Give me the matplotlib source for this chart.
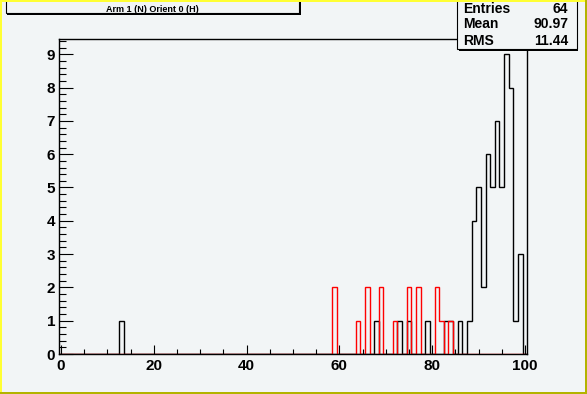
import numpy as np
import matplotlib
matplotlib.use("Agg")
import matplotlib.pyplot as plt
from matplotlib.patches import Rectangle
from matplotlib.ticker import MultipleLocator

# ---- data (bin centre -> count), bins of width 1 from -0.5 to 100.5 ----
black_bins = [13, 68, 73, 75, 79, 83, 84, 86, 88, 89, 90, 91, 92, 93, 94, 95, 96, 97, 98, 99]
black_counts = [1, 1, 1, 1, 1, 1, 1, 1, 1, 4, 5, 2, 6, 5, 7, 5, 9, 8, 1, 3]
red_bins = [59, 64, 66, 69, 72, 75, 77, 81, 82, 84]
red_counts = [2, 1, 2, 2, 1, 2, 2, 2, 1, 1]
title_text = "Arm 1 (N) Orient 0 (H)"
stats_labels = ["Entries", "Mean", "RMS"]
stats_values = ["64", "90.97", "11.44"]
x_ticks = [0, 20, 40, 60, 80, 100]
y_ticks = [0, 1, 2, 3, 4, 5, 6, 7, 8, 9]

nbins = 101
edges = np.arange(nbins + 1) - 0.5
black = np.zeros(nbins)
black[black_bins] = black_counts
red = np.zeros(nbins)
red[red_bins] = red_counts

W, H = 587, 394
BG = "#f2f5f6"
FONT = "Liberation Sans"

fig = plt.figure(figsize=(W / 100, H / 100), dpi=100)
fig.patch.set_facecolor(BG)


def fx(x):
    return x / W


def fy(y):
    return 1 - y / H


def frect(x0, y0, x1, y1, **kw):
    r = Rectangle((fx(x0), fy(y1)), (x1 - x0) / W, (y1 - y0) / H,
                  transform=fig.transFigure, **kw)
    fig.add_artist(r)
    return r


# axes frame in pixel coordinates
L, R, T, B = 58.7, 527.3, 39.3, 354.0
ax = fig.add_axes([fx(L), fy(B), (R - L) / W, (B - T) / H])
ax.set_facecolor(BG)
ax.set_xlim(-0.5, 100.5)
ax.set_ylim(0, max(black.max(), red.max()) * 1.05)

ax.stairs(black, edges, color="black", lw=1.0, baseline=0)
ax.stairs(red, edges, color="#ff0000", lw=1.0, baseline=0)

for s in ax.spines.values():
    s.set_color("black")
    s.set_linewidth(1.0)

ax.set_xticks(x_ticks)
ax.set_yticks(y_ticks)
ax.xaxis.set_minor_locator(MultipleLocator(5))
ax.yaxis.set_minor_locator(MultipleLocator(0.2))
ax.tick_params(axis="x", which="major", direction="in", length=6.5, width=0.8,
               pad=3.8, top=False)
ax.tick_params(axis="x", which="minor", direction="in", length=3.6, width=0.8,
               top=False)
ax.tick_params(axis="y", which="major", direction="in", length=10, width=0.8,
               pad=2.5, right=False)
ax.tick_params(axis="y", which="minor", direction="in", length=5, width=0.8,
               right=False)
for lab in ax.get_xticklabels() + ax.get_yticklabels():
    lab.set_fontfamily(FONT)
    lab.set_fontweight("bold")
    lab.set_fontsize(11)

# title box
frect(7.2, -5, 300.5, 14.8, facecolor="black", edgecolor="none", zorder=5)
frect(5.7, -5, 299, 13.3, facecolor=BG, edgecolor="black", lw=0.8, zorder=6)
fig.text(fx(152.3), fy(9.3), title_text, ha="center", va="center",
         fontsize=6.5, fontweight="bold", family=FONT, zorder=7)

# stats box
frect(459, -5, 578.2, 50.5, facecolor="black", edgecolor="none", zorder=5)
frect(457.3, -5, 576.7, 49, facecolor=BG, edgecolor="black", lw=0.8, zorder=6)
baselines = [12.7, 28.5, 45.0]
for lab, val, yb in zip(stats_labels, stats_values, baselines):
    fig.text(fx(463.3), fy(yb), lab, ha="left", va="baseline", fontsize=10,
             fontweight="bold", family=FONT, zorder=7)
    fig.text(fx(568.3), fy(yb), val, ha="right", va="baseline", fontsize=10,
             fontweight="bold", family=FONT, zorder=7)

# bevelled canvas border
bw = 2.3
frect(0, 0, W, bw, facecolor="#ffff33", edgecolor="none", zorder=10)
frect(0, 0, bw, H, facecolor="#ffff33", edgecolor="none", zorder=10)
frect(0, H - bw, W, H, facecolor="#b3b300", edgecolor="none", zorder=10)
frect(W - bw, 0, W, H, facecolor="#b3b300", edgecolor="none", zorder=10)

fig.savefig("out.png", dpi=100, facecolor=BG)
